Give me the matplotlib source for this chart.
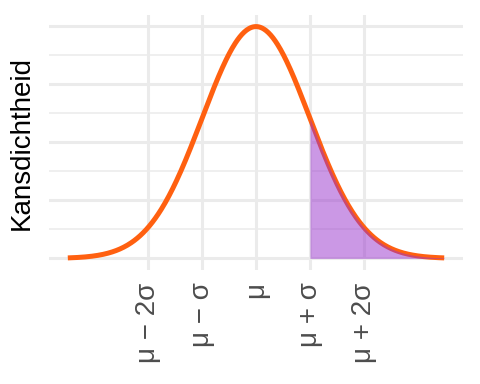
import numpy as np
import matplotlib
matplotlib.use("Agg")
import matplotlib.pyplot as plt
from matplotlib.ticker import MultipleLocator

plt.rcParams['font.family'] = ['Liberation Sans', 'DejaVu Sans']

# data
x_min, x_max = -3.5, 3.5
shade_from = 1.0
tick_pos = [-2, -1, 0, 1, 2]
tick_labels = ["μ − 2σ", "μ − σ", "μ", "μ + σ", "μ + 2σ"]
y_title = "Kansdichtheid"

x = np.linspace(x_min, x_max, 500)
y = np.exp(-x**2 / 2) / np.sqrt(2 * np.pi)

fig = plt.figure(figsize=(4.8, 3.84), dpi=100)
ax = fig.add_axes([49/480, 1 - 270/384, (463-49)/480, (270-15)/384])

ax.plot(x, y, color='#FF6010', lw=3.6, solid_capstyle='butt', zorder=3)
mask = x >= shade_from
ax.fill_between(x[mask], 0, y[mask], color='darkorchid', alpha=0.5, lw=0, zorder=4)

rng = x_max - x_min
ax.set_xlim(x_min - 0.05*rng, x_max + 0.05*rng)
ymax = y.max()
ax.set_ylim(-0.05*ymax, ymax*1.05)

ax.set_xticks(tick_pos)
ax.set_xticklabels(tick_labels, rotation=90, fontsize=20, color='#4D4D4D')
ax.yaxis.set_major_locator(MultipleLocator(0.1))
ax.yaxis.set_minor_locator(MultipleLocator(0.05))
ax.set_yticklabels([])
ax.tick_params(axis='both', which='both', length=0)
ax.tick_params(axis='x', pad=9)

ax.grid(True, which='major', axis='both', color='#EBEBEB', lw=2.2, zorder=0)
ax.grid(True, which='minor', axis='y', color='#EBEBEB', lw=1.1, zorder=0)
ax.set_axisbelow(True)
for s in ax.spines.values():
    s.set_visible(False)

ax.set_ylabel(y_title, fontsize=20, color='black')
ax.yaxis.set_label_coords(-14/414, 0.5)

fig.savefig("out.png", dpi=100)
